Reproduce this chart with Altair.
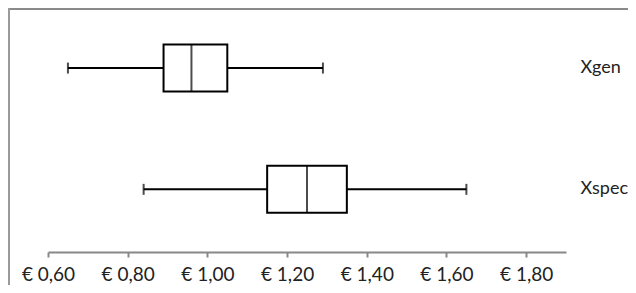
import altair as alt
import pandas as pd

categories = ["Xgen", "Xspec"]
mins = [0.65, 0.84]
q1s = [0.89, 1.15]
medians = [0.96, 1.25]
q3s = [1.05, 1.35]
maxs = [1.29, 1.65]
tick_values = [0.6, 0.8, 1.0, 1.2, 1.4, 1.6, 1.8]

df = pd.DataFrame({"cat": categories, "lo": mins, "q1": q1s, "med": medians,
                   "q3": q3s, "hi": maxs})

FONT = "Lato"
xscale = alt.Scale(domain=[0.6, 1.9], nice=False, zero=False)
yscale = alt.Scale(domain=categories, range=[-2.6, 240], paddingInner=0, paddingOuter=0)

xaxis = alt.Axis(values=tick_values, title=None, grid=False,
                 labelExpr="'€ ' + replace(format(datum.value, '.2f'), '.', ',')",
                 domainColor="#888888", domainWidth=2, tickColor="#888888", tickWidth=2,
                 tickSize=5, labelFont=FONT, labelFontSize=19, labelColor="#222222",
                 labelPadding=8, labelFlush=False)
yaxis = alt.Axis(orient="right", title=None, domain=False, ticks=False, grid=False,
                 labelFont=FONT, labelFontSize=18, labelColor="#222222",
                 labelPadding=14, labelAlign="left", labelBaseline="middle")

base = alt.Chart(df)
X = lambda f: alt.X(f"{f}:Q", scale=xscale, axis=xaxis)
Y = alt.Y("cat:N", scale=yscale, axis=yaxis, sort=categories)

whisk = base.mark_rule(color="black", strokeWidth=2).encode(x=X("lo"), x2="hi:Q", y=Y)
box = base.mark_bar(fill="white", stroke="black", strokeWidth=2, size=47).encode(
    x=X("q1"), x2="q3:Q", y=Y)
med = base.mark_tick(color="black", thickness=2, size=47, orient="vertical").encode(x=X("med"), y=Y)
cap_lo = base.mark_tick(color="black", thickness=2, size=11, orient="vertical").encode(x=X("lo"), y=Y)
cap_hi = base.mark_tick(color="black", thickness=2, size=11, orient="vertical").encode(x=X("hi"), y=Y)

frame_top = alt.Chart(pd.DataFrame({"a": [0]})).mark_rule(color="#8a8a8a", strokeWidth=2).encode(
    x=alt.value(-39), x2=alt.value(600), y=alt.value(-1))
frame_left = alt.Chart(pd.DataFrame({"a": [0]})).mark_rule(color="#9a9a9a", strokeWidth=2).encode(
    x=alt.value(-39), y=alt.value(-2), y2=alt.value(300))

chart = alt.layer(whisk, box, med, cap_lo, cap_hi, frame_top, frame_left).properties(
    width=518, height=242,
    padding={"left": 40, "top": 2, "right": 62, "bottom": 33},
    autosize=alt.AutoSizeParams(type="none"),
).configure_view(strokeWidth=0)

chart.save("out.html", embed_options={"renderer": "svg", "actions": False})
